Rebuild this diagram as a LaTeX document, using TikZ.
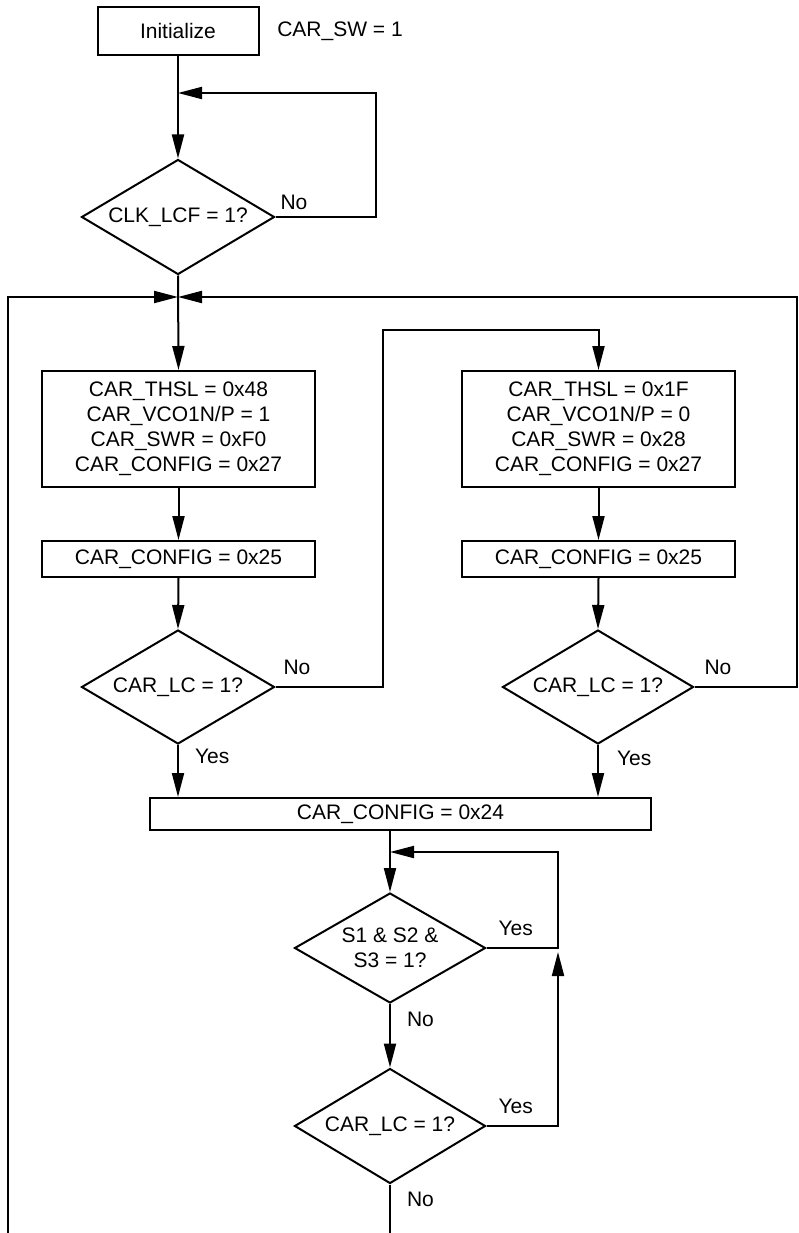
\documentclass[tikz,border=0pt]{standalone}
\usepackage{fontspec}
\setmainfont{Liberation Sans}
\usetikzlibrary{shapes.geometric,arrows.meta}

\begin{document}
\begin{tikzpicture}[x=1pt, y=-1pt, line width=2pt,
    every node/.style={font=\fontsize{21pt}{25pt}\selectfont},
    box/.style={rectangle, draw, align=center, inner sep=0pt},
    decision/.style={diamond, draw, align=center, inner sep=0pt, shape aspect=1.7},
    lbl/.style={inner sep=0pt, anchor=base west},
    flow/.style={-{Triangle[length=24pt, width=12pt]}}]
    \useasboundingbox (0,0) rectangle (798,1233);

    % start
    \node[box, minimum width=161pt, minimum height=48pt] (init) at (178, 31) {Initialize};
    \node (carsw) at (340, 31) {CAR\_SW = 1};
    \node[decision, minimum width=193pt, minimum height=115pt] (clk) at (178, 217) {CLK\_LCF = 1?};

    % left column
    \node[box, minimum width=273pt, minimum height=116pt] (set1) at (178.5, 429)
        {CAR\_THSL = 0x48\\CAR\_VCO1N/P = 1\\CAR\_SWR = 0xF0\\CAR\_CONFIG = 0x27};
    \node[box, minimum width=273pt, minimum height=36pt] (cfg1) at (178.5, 559) {CAR\_CONFIG = 0x25};
    \node[decision, minimum width=193pt, minimum height=114pt] (lc1) at (178, 687) {CAR\_LC = 1?};

    % right column
    \node[box, minimum width=273pt, minimum height=116pt] (set2) at (598.5, 429)
        {CAR\_THSL = 0x1F\\CAR\_VCO1N/P = 0\\CAR\_SWR = 0x28\\CAR\_CONFIG = 0x27};
    \node[box, minimum width=273pt, minimum height=36pt] (cfg2) at (598.5, 559) {CAR\_CONFIG = 0x25};
    \node[decision, minimum width=191pt, minimum height=114pt] (lc2) at (598, 687) {CAR\_LC = 1?};

    % lower part
    \node[box, minimum width=501pt, minimum height=32pt] (cfg3) at (400.5, 814) {CAR\_CONFIG = 0x24};
    \node[decision, minimum width=191pt, minimum height=110pt] (s) at (390, 948) {S1 \& S2 \&\\S3 = 1?};
    \node[decision, minimum width=191pt, minimum height=115pt] (lc3) at (390, 1126) {CAR\_LC = 1?};

    % helper points
    \coordinate (clkr) at (376, 93);
    \coordinate (clkt) at (178, 93);
    \coordinate (jn) at (178, 297);
    \coordinate (br1) at (383, 330);
    \coordinate (rr) at (797, 297);
    \coordinate (lend) at (8, 1233);
    \coordinate (sr) at (558, 952);
    \coordinate (stopr) at (558, 852);
    \coordinate (stop) at (390, 852);
    \coordinate (bend) at (390, 1233);

    % connectors
    \draw[flow] (init.south) -- (clk.north);
    \draw[flow] (clk.east) -| (clkr) -- (clkt);
    \draw[flow] (clk.south) -- (set1.north);
    \draw[flow] (lend) |- (jn);
    \draw[flow] (set1.south) -- (cfg1.north);
    \draw[flow] (cfg1.south) -- (lc1.north);
    \draw[flow] (lc1.east) -| (br1) -| (set2.north);
    \draw[flow] (lc1.south) -- (lc1.south |- cfg3.north);
    \draw[flow] (set2.south) -- (cfg2.north);
    \draw[flow] (cfg2.south) -- (lc2.north);
    \draw[flow] (lc2.south) -- (lc2.south |- cfg3.north);
    \draw[flow] (lc2.east) -| (rr) -- (jn);
    \draw[flow] (s.north |- cfg3.south) -- (s.north);
    \draw[flow] (s.east) -| (stopr) -- (stop);
    \draw[flow] (s.south) -- (lc3.north);
    \draw[flow] (lc3.east) -| (sr);
    \draw (lc3.south) -- (bend);

    % branch labels
    \node[lbl] at ([xshift=4pt, yshift=7pt]clk.east) {No};
    \node[lbl] at ([xshift=7pt, yshift=13pt]lc1.east) {No};
    \node[lbl] at ([xshift=16pt, yshift=-18pt]lc1.south) {Yes};
    \node[lbl] at ([xshift=9pt, yshift=13pt]lc2.east) {No};
    \node[lbl] at ([xshift=18pt, yshift=-20pt]lc2.south) {Yes};
    \node[lbl] at ([xshift=11pt, yshift=13pt]s.east) {Yes};
    \node[lbl] at ([xshift=16pt, yshift=-22pt]s.south) {No};
    \node[lbl] at ([xshift=11pt, yshift=13pt]lc3.east) {Yes};
    \node[lbl] at ([xshift=16pt, yshift=-22pt]lc3.south) {No};
\end{tikzpicture}
\end{document}
